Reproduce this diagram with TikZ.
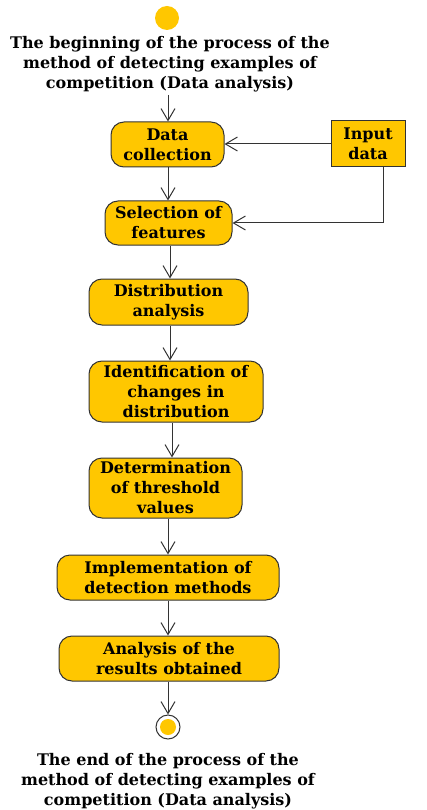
\documentclass[tikz,border=0pt]{standalone}
\usepackage{fontspec}
\setmainfont{DejaVu Serif}
\usetikzlibrary{arrows.meta}
\definecolor{fillc}{RGB}{255,199,0}
\definecolor{linec}{RGB}{51,51,51}
\tikzset{
  base/.style={font=\bfseries\fontsize{16}{20}\selectfont, align=center, text=black, inner sep=0pt},
  act/.style={base, draw=linec, fill=fillc, rounded corners=13pt, line width=1pt},
  inbox/.style={base, draw=linec, fill=fillc, line width=1pt},
  arr/.style={draw=linec, line width=1pt, -{Straight Barb[length=12pt,width=14pt]}},
  conn/.style={draw=linec, line width=1pt}
}
\begin{document}
\begin{tikzpicture}[x=1pt,y=-1pt]
\useasboundingbox (0,0) rectangle (426,810);
\node[circle, fill=fillc, minimum size=24pt, inner sep=0pt] (start) at (167,18) {};
\node[base] (toptext) at (170,64) {The beginning of the process of the\\method of detecting examples of\\competition (Data analysis)};
\node[act, minimum width=113pt, minimum height=45pt] (dc) at (167.5,144.5) {Data\\collection};
\node[inbox, minimum width=74pt, minimum height=46pt] (in) at (368,144) {Input\\data};
\node[act, minimum width=127pt, minimum height=44pt] (sel) at (168.5,223) {Selection of\\features};
\node[act, minimum width=159pt, minimum height=46pt] (dist) at (168.5,302) {Distribution\\analysis};
\node[act, minimum width=174pt, minimum height=61pt] (idc) at (176,391.5) {Identification of\\changes in\\distribution};
\node[act, minimum width=153pt, minimum height=60pt] (det) at (165.5,488) {Determination\\of threshold\\values};
\node[act, minimum width=222pt, minimum height=45pt] (impl) at (168,577.5) {Implementation of\\detection methods};
\node[act, minimum width=220pt, minimum height=45pt] (res) at (169,658.5) {Analysis of the\\results obtained};
\node[circle, draw=linec, line width=1pt, fill=white, minimum size=24pt, inner sep=0pt] (endc) at (168,727) {};
\node[circle, fill=fillc, minimum size=16pt, inner sep=0pt] (endi) at (endc) {};
\node[base] (bottext) at (168,781) {The end of the process of the\\method of detecting examples of\\competition (Data analysis)};

\coordinate (t0) at (168,95);
\draw[arr] (t0) -- (t0 |- dc.north);
\draw[arr] (in.west) -- (in.west -| dc.east);
\draw[arr] (dc.south -| 168,0) -- (168,0 |- sel.north);
\draw[arr] ([xshift=15pt]in.south) |- (sel.east);
\draw[arr] (sel.south -| 170,0) -- (170,0 |- dist.north);
\draw[arr] (dist.south -| 170,0) -- (170,0 |- idc.north);
\draw[arr] (idc.south -| 172,0) -- (172,0 |- det.north);
\draw[arr] (det.south -| 168,0) -- (168,0 |- impl.north);
\draw[arr] (impl.south -| 168,0) -- (168,0 |- res.north);
\draw[arr] (res.south -| endc) -- (endc.north);
\end{tikzpicture}
\end{document}
